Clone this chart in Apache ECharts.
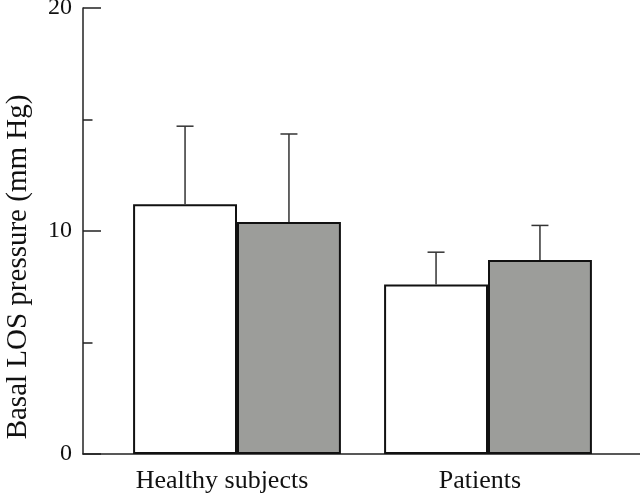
<!DOCTYPE html>
<html>
<head>
<meta charset="utf-8">
<script src="https://cdn.jsdelivr.net/npm/echarts@6/dist/echarts.min.js"></script>
<style>
html,body{margin:0;padding:0;background:#fff;}
#chart{width:640px;height:494px;}
</style>
</head>
<body>
<div id="chart"></div>
<script>
const categories = ['Healthy subjects', 'Patients'];
const whiteMeans = [11.2, 7.6];
const whiteErr = [3.5, 1.45];
const grayMeans = [10.4, 8.7];
const grayErr = [3.95, 1.55];
const yTicks = [0, 10, 20];

const FONT = 'Liberation Serif';
const BAR_FRAC = 0.414;

const chart = echarts.init(document.getElementById('chart'));

function errRender(sign) {
  return function (params, api) {
    const idx = api.value(0);
    const mean = api.value(1);
    const err = api.value(2);
    const p0 = api.coord([idx, mean]);
    const p1 = api.coord([idx, mean + err]);
    const band = api.size([1, 0])[0];
    const x = p0[0] + sign * band * BAR_FRAC / 2;
    const cap = 8.5;
    const style = { stroke: '#333', lineWidth: 1.5 };
    return {
      type: 'group',
      children: [
        { type: 'line', shape: { x1: x, y1: p0[1], x2: x, y2: p1[1] }, style: style },
        { type: 'line', shape: { x1: x - cap, y1: p1[1], x2: x + cap, y2: p1[1] }, style: style }
      ]
    };
  };
}

const option = {
  backgroundColor: '#fff',
  animation: false,
  grid: [
    { left: 83, right: 0, top: 8, bottom: 40, containLabel: false, outerBoundsMode: 'none' },
    { left: 111.5, right: 26.5, top: 8, bottom: 40, containLabel: false, outerBoundsMode: 'none' }
  ],
  xAxis: [
    {
      gridIndex: 0, type: 'category', data: categories,
      axisLine: { show: true, lineStyle: { color: '#222', width: 1.5 } },
      axisTick: { show: false }, axisLabel: { show: false }, splitLine: { show: false }
    },
    {
      gridIndex: 1, type: 'category', data: categories,
      axisLine: { show: false }, axisTick: { show: false },
      axisLabel: {
        show: true, interval: 0, hideOverlap: false,
        color: '#111', fontFamily: FONT, fontSize: 26, margin: 14,
        formatter: function (v, i) { return '{c' + i + '|' + v + '}'; },
        rich: {
          c0: { color: '#111', fontFamily: FONT, fontSize: 26, padding: [0, 30, 0, 0] },
          c1: { color: '#111', fontFamily: FONT, fontSize: 26, padding: [0, 16, 0, 0] }
        }
      },
      splitLine: { show: false }
    }
  ],
  yAxis: [
    {
      gridIndex: 0, type: 'value', min: 0, max: 20, interval: 10,
      name: 'Basal LOS pressure (mm Hg)', nameLocation: 'middle', nameRotate: 90, nameGap: 50,
      nameTextStyle: { color: '#111', fontFamily: FONT, fontSize: 29, padding: [0, 72, 0, 0] },
      axisLine: { show: true, lineStyle: { color: '#222', width: 1.5 } },
      axisTick: { show: true, inside: true, length: 18, lineStyle: { color: '#222', width: 1.5 } },
      minorTick: { show: true, splitNumber: 2, length: 9.5, lineStyle: { color: '#222', width: 1.5 } },
      axisLabel: {
        color: '#111', fontFamily: FONT, fontSize: 24, margin: 11,
        formatter: function (v) { return yTicks.indexOf(v) >= 0 ? String(v) : ''; }
      },
      splitLine: { show: false }
    },
    {
      gridIndex: 1, type: 'value', min: 0, max: 20, interval: 10, show: false
    }
  ],
  series: [
    {
      type: 'bar', xAxisIndex: 1, yAxisIndex: 1, data: whiteMeans,
      barWidth: (BAR_FRAC * 100) + '%', barGap: '0%',
      itemStyle: { color: '#ffffff', borderColor: '#111', borderWidth: 2 }
    },
    {
      type: 'bar', xAxisIndex: 1, yAxisIndex: 1, data: grayMeans,
      barWidth: (BAR_FRAC * 100) + '%', barGap: '0%',
      itemStyle: { color: '#9c9d9a', borderColor: '#111', borderWidth: 2 }
    },
    {
      type: 'custom', xAxisIndex: 1, yAxisIndex: 1, z: 5,
      renderItem: errRender(-1),
      data: whiteMeans.map(function (m, i) { return [i, m, whiteErr[i]]; })
    },
    {
      type: 'custom', xAxisIndex: 1, yAxisIndex: 1, z: 5,
      renderItem: errRender(1),
      data: grayMeans.map(function (m, i) { return [i, m, grayErr[i]]; })
    }
  ]
};
chart.setOption(option);
</script>
</body>
</html>
